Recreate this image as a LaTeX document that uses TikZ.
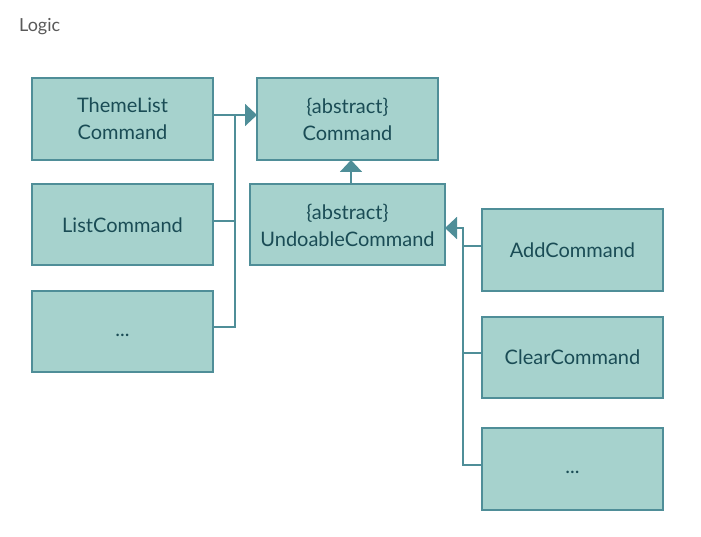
\documentclass[tikz,border=0pt]{standalone}
\usepackage{fontspec}
\setmainfont{Lato}
\usetikzlibrary{arrows.meta}
\definecolor{boxfill}{HTML}{A6D2CD}
\definecolor{boxline}{HTML}{4F8E98}
\definecolor{boxtext}{HTML}{1A4C55}
\begin{document}
\begin{tikzpicture}[x=1pt,y=-1pt,
  cls/.style={draw=boxline,fill=boxfill,line width=2pt,text=boxtext,align=center,
    minimum width=181pt,minimum height=81pt,inner sep=0pt,outer sep=0pt,
    font=\fontsize{20}{27}\selectfont},
  conn/.style={draw=boxline,line width=2pt},
  inh/.style={conn,-{Triangle[length=12pt,width=22pt]}}]
\useasboundingbox (0,0) rectangle (701,537);
\node[text=black!65,anchor=west,inner sep=0pt,font=\fontsize{18}{21}\selectfont] (logic) at (19,27) {Logic};
\node[cls,minimum height=82pt] (tl) at (122.5,119) {ThemeList\\Command};
\node[cls] (lc) at (122.5,225) {ListCommand};
\node[cls] (d1) at (122.5,331) {\vphantom{Ag}...};
\node[cls,minimum height=82pt] (cmd) at (347.5,119) {\{abstract\}\\Command};
\node[cls,minimum width=195pt] (uc) at (347.5,225) {\{abstract\}\\UndoableCommand};
\node[cls] (add) at (572.5,250) {AddCommand};
\node[cls] (clr) at (572.5,357) {ClearCommand};
\node[cls,minimum height=82pt] (d2) at (572.5,468.5) {\vphantom{Ag}...};
% left hierarchy
\coordinate (j1) at (235,115);
\draw[inh] ([yshift=4pt]tl.east) -- ([yshift=4pt]cmd.west);
\draw[conn] ([yshift=4pt]d1.east) -| (j1);
\draw[conn] ([yshift=4pt]lc.east) -- ([yshift=4pt]lc.east -| j1);
% Command <- UndoableCommand
\draw[inh] ([xshift=3.5pt]uc.north) -- ([xshift=3.5pt]cmd.south);
% right hierarchy
\coordinate (j2) at (463,228);
\draw[inh] ([yshift=3.5pt]d2.west) -| (j2) -- ([yshift=-3pt]uc.east);
\draw[conn] ([yshift=4pt]add.west) -- ([yshift=4pt]add.west -| j2);
\draw[conn] ([yshift=4pt]clr.west) -- ([yshift=4pt]clr.west -| j2);
\end{tikzpicture}
\end{document}
